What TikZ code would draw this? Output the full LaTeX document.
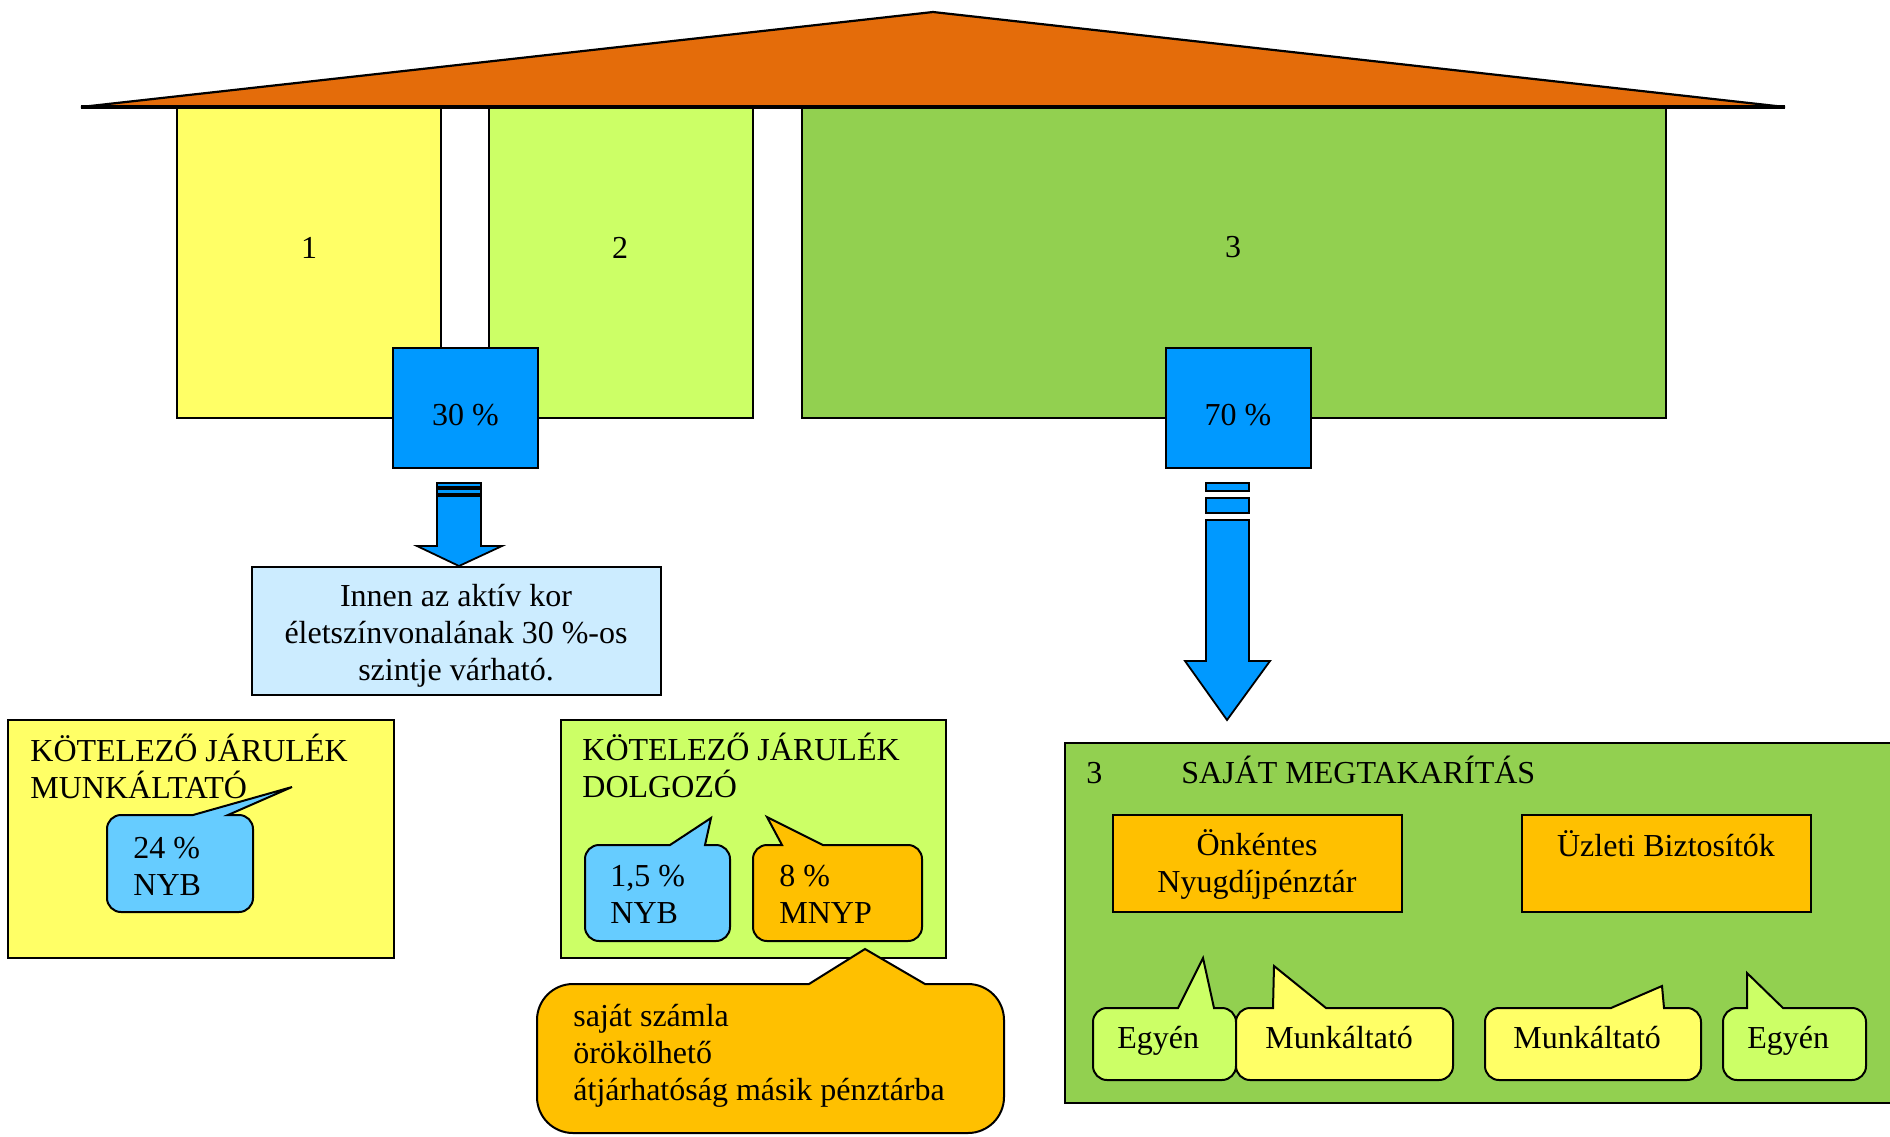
\documentclass[tikz,border=0pt]{standalone}
\usepackage{fontspec}
\setmainfont{Liberation Serif}
\definecolor{roof}{HTML}{E46C0A}
\definecolor{yel}{HTML}{FFFF66}
\definecolor{lime}{HTML}{CCFF66}
\definecolor{grn}{HTML}{92D050}
\definecolor{blu}{HTML}{0099FF}
\definecolor{lblu}{HTML}{CCECFF}
\definecolor{sky}{HTML}{66CCFF}
\definecolor{gold}{HTML}{FFC000}
\tikzset{
    every node/.style={font=\fontsize{16}{18.5}\selectfont, inner sep=0pt},
    box/.style={draw=black, line width=1pt},
    bubble/.style={draw=black, line width=1pt},
    blockarrow/.style={draw=black, fill=blu, line width=0.9pt},
    txt/.style={anchor=base west, align=left},
}
\begin{document}
\begin{tikzpicture}[x=0.5pt,y=-0.5pt]
    % Area
    \useasboundingbox (0,0) rectangle (1890,1136);
    % Pillars
    \draw [box, fill=yel] (177,107) rectangle (441,418);
    \draw [box, fill=lime] (489,107) rectangle (753,418);
    \draw [box, fill=grn] (802,107) rectangle (1666,418);
    \node [anchor=base] (n1) at (309,258) {1};
    \node [anchor=base] (n2) at (620,258) {2};
    \node [anchor=base] (n3) at (1233,257) {3};
    % Roof
    \coordinate (R1) at (81,107);
    \coordinate (R2) at (933,12);
    \coordinate (R3) at (1785,107);
    \draw [fill=roof, line width=1.1pt] (R1) -- (R2) -- (R3) -- cycle;
    \draw [line width=1.6pt] (R1) -- (R3); % base of the roof
    % Percent boxes
    \draw [box, fill=blu] (393,348) rectangle (538,468);
    \draw [box, fill=blu] (1166,348) rectangle (1311,468);
    \node [anchor=base] (p30) at (465.5,425) {30 \%};
    \node [anchor=base] (p70) at (1238,425) {70 \%};
    % Arrows
    \draw [blockarrow] (437,483) rectangle (481,487);
    \draw [blockarrow] (437,489) rectangle (481,494);
    \draw [blockarrow] (437,496) -- (437,546) -- (417,546) -- (459,566) -- (502,546) -- (481,546) -- (481,496) -- cycle;
    \draw [blockarrow] (1206,483) rectangle (1249,491);
    \draw [blockarrow] (1206,498) rectangle (1249,513);
    \draw [blockarrow] (1206,520) -- (1206,661) -- (1185,661) -- (1227,720) -- (1270,661) -- (1249,661) -- (1249,520) -- cycle;
    % Info (base = last line)
    \draw [box, fill=lblu] (252,567) rectangle (661,695);
    \node [anchor=base, align=center] (info) at (456,680) {Innen az aktív kor\\életszínvonalának 30 \%-os\\szintje várható.};
    % Kotelezo jarulek
    \draw [box, fill=yel] (8,720) rectangle (394,958);
    \node [txt] (kjm) at (30,798) {KÖTELEZŐ JÁRULÉK\\MUNKÁLTATÓ};
    \draw [bubble, fill=sky] (292,787) -- (228,815) [rounded corners=7pt] -- (253,815) -- (253,912) -- (107,912) -- (107,815) [sharp corners] -- (193,815) -- cycle;
    \node [txt] (b24) at (133,895) {24 \%\\NYB};
    \draw [box, fill=lime] (561,720) rectangle (946,958);
    \node [txt] (kjd) at (582,797) {KÖTELEZŐ JÁRULÉK\\DOLGOZÓ};
    \draw [bubble, fill=sky] (711,818) -- (705,845) [rounded corners=7pt] -- (730,845) -- (730,941) -- (585,941) -- (585,845) [sharp corners] -- (670,845) -- cycle;
    \node [txt] (b15) at (610,923) {1,5 \%\\NYB};
    \draw [bubble, fill=gold] (767,817) -- (823,845) [rounded corners=7pt] -- (922,845) -- (922,941) -- (753,941) -- (753,845) [sharp corners] -- (782,845) -- cycle;
    \node [txt] (b8) at (779,923) {8 \%\\MNYP};
    \draw [bubble, fill=gold] (865,949) -- (925,984) [rounded corners=18pt] -- (1004,984) -- (1004,1133) -- (537,1133) -- (537,984) [sharp corners] -- (809,984) -- cycle;
    \node [txt] (mnyp) at (573,1100) {saját számla\\örökölhető\\átjárhatóság másik pénztárba};
    % Sajat megtakaritas
    \draw [box, fill=grn] (1065,743) rectangle (1900,1103);
    \node [txt] (s3) at (1086,783) {3};
    \node [txt] (sm) at (1181,783) {SAJÁT MEGTAKARÍTÁS};
    \draw [box, fill=gold] (1113,815) rectangle (1402,912);
    \draw [box, fill=gold] (1522,815) rectangle (1811,912);
    \node [anchor=base, align=center] (onk) at (1257,892) {Önkéntes\\Nyugdíjpénztár};
    \node [anchor=base] (uzl) at (1666,856) {Üzleti Biztosítók};
    \draw [bubble, fill=lime] (1203,958) -- (1214,1008) [rounded corners=7pt] -- (1236,1008) -- (1236,1080) -- (1093,1080) -- (1093,1008) [sharp corners] -- (1178,1008) -- cycle;
    \draw [bubble, fill=yel] (1274,966) -- (1326,1008) [rounded corners=7pt] -- (1453,1008) -- (1453,1080) -- (1236,1080) -- (1236,1008) [sharp corners] -- (1273,1008) -- cycle;
    \draw [bubble, fill=yel] (1662,986) -- (1664,1008) [rounded corners=7pt] -- (1701,1008) -- (1701,1080) -- (1485,1080) -- (1485,1008) [sharp corners] -- (1611,1008) -- cycle;
    \draw [bubble, fill=lime] (1747,973) -- (1783,1008) [rounded corners=7pt] -- (1866,1008) -- (1866,1080) -- (1723,1080) -- (1723,1008) [sharp corners] -- (1747,1008) -- cycle;
    \node [txt] (e1) at (1117,1048) {Egyén};
    \node [txt] (m1) at (1265,1048) {Munkáltató};
    \node [txt] (m2) at (1513,1048) {Munkáltató};
    \node [txt] (e2) at (1747,1048) {Egyén};
\end{tikzpicture}
\end{document}
